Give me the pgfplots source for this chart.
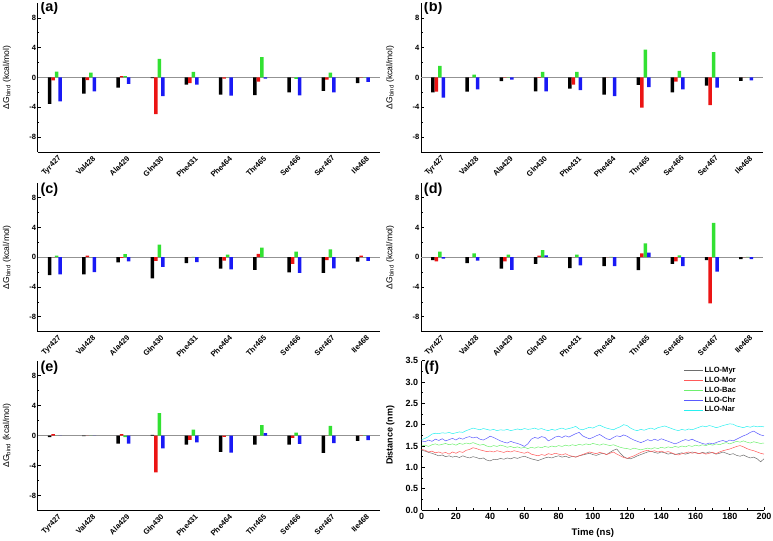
\documentclass[border=0pt]{standalone}
\usepackage{pgfplots}
\pgfplotsset{compat=1.18}
\usepackage{pgfplotstable}
\usepackage{fontspec}
\setmainfont{Liberation Sans}

\definecolor{bk}{RGB}{0,0,0}
\definecolor{rd}{RGB}{235,20,20}
\definecolor{gr}{RGB}{50,225,50}
\definecolor{bl}{RGB}{25,25,245}
\definecolor{cMyr}{RGB}{110,110,110}
\definecolor{cMor}{RGB}{255,90,90}
\definecolor{cBac}{RGB}{110,240,110}
\definecolor{cChr}{RGB}{90,90,255}
\definecolor{cNar}{RGB}{40,240,240}

% columns: x, black, red, green, blue
\pgfplotstableread{
x k r g b
1 -3.55 -0.40 0.80 -3.20
2 -2.15 -0.35 0.67 -1.85
3 -1.35 0.20 0.18 -0.85
4 -0.10 -4.90 2.50 -2.50
5 -0.95 -0.75 0.75 -0.95
6 -2.30 -0.15 0.02 -2.45
7 -2.35 -0.55 2.75 -0.15
8 -2.00 0.02 -0.20 -2.40
9 -1.80 -0.30 0.65 -2.00
10 -0.75 0.05 0.05 -0.60
}\tabA
\pgfplotstableread{
x k r g b
1 -2.00 -1.90 1.55 -2.70
2 -1.90 0.00 0.40 -1.60
3 -0.50 0.05 0.05 -0.30
4 -1.85 -0.05 0.75 -1.85
5 -1.50 -0.95 0.75 -1.70
6 -2.30 0.00 0.02 -2.50
7 -1.00 -4.05 3.75 -1.30
8 -2.00 -0.55 0.90 -1.60
9 -1.10 -3.70 3.40 -1.35
10 -0.45 0.00 0.02 -0.40
}\tabB
\pgfplotstableread{
x k r g b
1 -2.40 0.02 0.20 -2.30
2 -2.30 0.20 0.02 -2.00
3 -0.70 -0.10 0.40 -0.55
4 -2.85 -0.50 1.70 -1.30
5 -0.80 0.02 0.05 -0.65
6 -1.55 -0.45 0.35 -1.65
7 -1.70 0.45 1.30 0.02
8 -2.05 -0.90 0.75 -2.10
9 -2.10 -0.40 1.05 -1.50
10 -0.60 0.20 0.02 -0.50
}\tabC
\pgfplotstableread{
x k r g b
1 -0.40 -0.55 0.75 -0.20
2 -0.80 0.00 0.50 -0.45
3 -1.55 -0.55 0.35 -1.70
4 -0.90 0.20 0.95 0.25
5 -1.45 0.00 0.35 -1.10
6 -1.20 0.00 0.05 -1.20
7 -1.75 0.50 1.85 0.60
8 -0.90 -0.55 0.25 -1.20
9 -0.40 -6.20 4.60 -1.95
10 -0.25 0.00 0.05 -0.25
}\tabD
\pgfplotstableread{
x k r g b
1 -0.20 0.20 0.00 0.00
2 -0.05 0.02 0.02 0.02
3 -1.05 0.20 -0.20 -1.05
4 0.10 -4.90 3.00 -1.70
5 -1.20 -0.55 0.80 -0.90
6 -2.15 -0.15 0.00 -2.25
7 -1.20 0.00 1.40 0.35
8 -1.20 -0.30 0.40 -1.10
9 -2.30 0.00 1.30 -1.00
10 -0.70 0.05 0.05 -0.60
}\tabE

\pgfplotstableread{
t myr mor bac chr nar
0 1.40 1.42 1.50 1.62 1.65
2 1.38 1.40 1.52 1.60 1.68
4 1.35 1.36 1.49 1.64 1.72
6 1.33 1.38 1.53 1.61 1.78
8 1.30 1.34 1.55 1.66 1.80
10 1.27 1.36 1.52 1.63 1.79
12 1.29 1.33 1.54 1.67 1.81
14 1.25 1.35 1.56 1.62 1.80
16 1.27 1.31 1.53 1.65 1.82
18 1.24 1.36 1.55 1.68 1.79
20 1.26 1.33 1.52 1.64 1.81
22 1.23 1.37 1.56 1.69 1.83
24 1.27 1.35 1.54 1.66 1.82
26 1.24 1.40 1.57 1.70 1.86
28 1.22 1.42 1.55 1.72 1.89
30 1.25 1.46 1.58 1.69 1.92
32 1.23 1.44 1.55 1.71 1.90
34 1.20 1.41 1.52 1.66 1.88
36 1.22 1.39 1.54 1.64 1.91
38 1.17 1.37 1.50 1.68 1.89
40 1.15 1.38 1.48 1.73 1.87
42 1.19 1.36 1.51 1.70 1.89
44 1.18 1.39 1.49 1.66 1.86
46 1.21 1.37 1.52 1.62 1.88
48 1.19 1.35 1.50 1.59 1.87
50 1.22 1.38 1.47 1.57 1.89
52 1.20 1.36 1.49 1.61 1.86
54 1.23 1.39 1.46 1.58 1.88
56 1.21 1.37 1.48 1.56 1.90
58 1.24 1.35 1.45 1.53 1.88
60 1.26 1.33 1.47 1.49 1.91
62 1.23 1.36 1.44 1.55 1.89
64 1.20 1.31 1.47 1.66 1.90
66 1.18 1.29 1.45 1.70 1.92
68 1.16 1.27 1.48 1.68 1.89
70 1.19 1.30 1.46 1.72 1.91
72 1.22 1.28 1.49 1.70 1.88
74 1.24 1.32 1.47 1.62 1.86
76 1.22 1.30 1.50 1.66 1.89
78 1.25 1.33 1.48 1.71 1.87
80 1.27 1.31 1.51 1.73 1.90
82 1.24 1.29 1.49 1.70 1.92
84 1.26 1.32 1.52 1.74 1.89
86 1.23 1.28 1.50 1.71 1.91
88 1.26 1.26 1.53 1.75 1.93
90 1.24 1.24 1.51 1.79 1.96
92 1.27 1.27 1.54 1.82 1.90
94 1.29 1.30 1.52 1.74 1.88
96 1.31 1.33 1.55 1.70 1.91
98 1.33 1.36 1.53 1.67 1.94
100 1.30 1.34 1.56 1.70 1.92
102 1.28 1.32 1.54 1.74 1.96
104 1.31 1.35 1.52 1.77 1.99
106 1.33 1.33 1.55 1.72 1.95
108 1.30 1.30 1.53 1.67 1.92
110 1.35 1.33 1.51 1.65 1.90
112 1.40 1.36 1.53 1.70 1.88
114 1.43 1.31 1.50 1.74 1.92
116 1.33 1.27 1.47 1.72 1.95
118 1.25 1.23 1.45 1.76 2.00
120 1.21 1.21 1.44 1.73 1.98
122 1.20 1.24 1.42 1.68 1.92
124 1.23 1.27 1.45 1.64 1.88
126 1.27 1.31 1.43 1.61 1.86
128 1.30 1.35 1.41 1.58 1.89
130 1.33 1.38 1.43 1.61 1.87
132 1.36 1.40 1.45 1.65 1.90
134 1.38 1.37 1.43 1.62 1.92
136 1.35 1.39 1.46 1.66 1.89
138 1.33 1.36 1.44 1.63 1.93
140 1.36 1.38 1.47 1.67 1.95
142 1.34 1.35 1.45 1.64 1.97
144 1.31 1.37 1.48 1.61 1.94
146 1.33 1.34 1.46 1.58 1.91
148 1.30 1.31 1.49 1.55 1.88
150 1.32 1.29 1.47 1.58 1.86
152 1.34 1.32 1.50 1.62 1.89
154 1.31 1.34 1.48 1.65 1.87
156 1.33 1.36 1.51 1.63 1.90
158 1.36 1.33 1.49 1.66 1.88
160 1.34 1.35 1.52 1.62 1.91
162 1.32 1.32 1.50 1.59 1.94
164 1.35 1.34 1.53 1.56 1.97
166 1.33 1.31 1.51 1.54 1.95
168 1.36 1.33 1.54 1.57 1.98
170 1.34 1.35 1.52 1.55 1.96
172 1.31 1.32 1.55 1.58 1.93
174 1.33 1.36 1.53 1.61 1.95
176 1.36 1.39 1.56 1.63 1.98
178 1.33 1.41 1.58 1.60 2.00
180 1.30 1.43 1.55 1.64 2.02
182 1.32 1.46 1.58 1.62 2.01
184 1.28 1.49 1.61 1.66 1.97
186 1.26 1.51 1.59 1.70 1.95
188 1.29 1.48 1.62 1.74 1.93
190 1.25 1.44 1.59 1.77 1.96
192 1.22 1.41 1.57 1.82 1.94
194 1.24 1.39 1.60 1.85 1.97
196 1.20 1.36 1.58 1.80 1.95
198 1.13 1.33 1.56 1.76 1.96
200 1.20 1.31 1.57 1.74 1.95
}\tabF

\tikzset{plabel/.style={anchor=north west, inner sep=0pt, font=\bfseries\fontsize{14.5}{16}\selectfont}}

\pgfplotsset{
  common/.style={
    scale only axis,
    axis x line*=bottom, axis y line*=left,
    axis line style={line width=0.9bp, -},
    tick align=inside,
    major tick length=3bp, minor tick length=1.6bp,
    tick style={black, line width=0.7bp},
    /pgf/number format/assume math mode=true,
  },
  barpanel/.style={
    common,
    width=342.3bp, height=149bp,
    ybar=0pt, bar width=3.5bp,
    xmin=0.5, xmax=10.5, ymin=-10, ymax=10,
    ytick={-8,-4,0,4,8}, minor y tick num=1,
    xtick={1,...,10},
    xticklabels={Tyr427,Val428,Ala429,Gln430,Phe431,Phe464,Thr465,Ser466,Ser467,Ile468},
    x tick style={draw=none},
    x tick label style={rotate=45, anchor=north east, inner sep=1bp,
      font=\bfseries\fontsize{7.6}{9}\selectfont, xshift=3bp, yshift=-1bp},
    y tick label style={font=\bfseries\fontsize{7.6}{9}\selectfont, inner sep=1.5bp},
    ylabel={ΔG\textsubscript{bind} (kcal/mol)},
    y label style={at={(axis description cs:-0.09,0.5)}, anchor=center,
      font=\fontsize{8.6}{10}\selectfont},
    extra y ticks={0}, extra y tick labels={},
    extra y tick style={grid=major, major grid style={gray!85, line width=1.3bp}, tick style={draw=none}},
  },
}

\begin{document}
\begin{tikzpicture}
\useasboundingbox (0,0) rectangle (773bp,541bp);

% (a)
\begin{axis}[barpanel, at={(37.7bp,389bp)}, anchor=south west]
\addplot[fill=bk, draw=none] table[x=x,y=k] {\tabA};
\addplot[fill=rd, draw=none] table[x=x,y=r] {\tabA};
\addplot[fill=gr, draw=none] table[x=x,y=g] {\tabA};
\addplot[fill=bl, draw=none] table[x=x,y=b] {\tabA};
\node[plabel] at (rel axis cs:0.008,1.012) {(a)};
\end{axis}

% (b)
\begin{axis}[barpanel, at={(421bp,389bp)}, anchor=south west]
\addplot[fill=bk, draw=none] table[x=x,y=k] {\tabB};
\addplot[fill=rd, draw=none] table[x=x,y=r] {\tabB};
\addplot[fill=gr, draw=none] table[x=x,y=g] {\tabB};
\addplot[fill=bl, draw=none] table[x=x,y=b] {\tabB};
\node[plabel] at (rel axis cs:0.008,1.012) {(b)};
\end{axis}

% (c)
\begin{axis}[barpanel, at={(37.7bp,209.3bp)}, anchor=south west]
\addplot[fill=bk, draw=none] table[x=x,y=k] {\tabC};
\addplot[fill=rd, draw=none] table[x=x,y=r] {\tabC};
\addplot[fill=gr, draw=none] table[x=x,y=g] {\tabC};
\addplot[fill=bl, draw=none] table[x=x,y=b] {\tabC};
\node[plabel] at (rel axis cs:0.008,1.0) {(c)};
\end{axis}

% (d)
\begin{axis}[barpanel, at={(421bp,209.3bp)}, anchor=south west]
\addplot[fill=bk, draw=none] table[x=x,y=k] {\tabD};
\addplot[fill=rd, draw=none] table[x=x,y=r] {\tabD};
\addplot[fill=gr, draw=none] table[x=x,y=g] {\tabD};
\addplot[fill=bl, draw=none] table[x=x,y=b] {\tabD};
\node[plabel] at (rel axis cs:0.008,1.0) {(d)};
\end{axis}

% (e)
\begin{axis}[barpanel, at={(37.7bp,30.3bp)}, anchor=south west, height=150bp]
\addplot[fill=bk, draw=none] table[x=x,y=k] {\tabE};
\addplot[fill=rd, draw=none] table[x=x,y=r] {\tabE};
\addplot[fill=gr, draw=none] table[x=x,y=g] {\tabE};
\addplot[fill=bl, draw=none] table[x=x,y=b] {\tabE};
\node[plabel] at (rel axis cs:0.008,1.0) {(e)};
\end{axis}

% (f)
\begin{axis}[common, at={(421.7bp,31bp)}, anchor=south west,
  width=342.3bp, height=149.3bp,
  xmin=0, xmax=200, ymin=0, ymax=3.5,
  xtick={0,20,...,200}, minor x tick num=1,
  ytick={0,0.5,...,3.5}, minor y tick num=1,
  yticklabel style={/pgf/number format/fixed, /pgf/number format/fixed zerofill, /pgf/number format/precision=1},
  tick label style={font=\bfseries\fontsize{9}{10}\selectfont},
  xlabel={Time (ns)}, ylabel={Distance (nm)},
  x label style={at={(axis description cs:0.5,-0.155)}, anchor=center, font=\bfseries\fontsize{9.6}{11}\selectfont},
  y label style={at={(axis description cs:-0.092,0.5)}, anchor=center, font=\bfseries\fontsize{9}{11}\selectfont},
  legend style={at={(axis description cs:0.765,0.965)}, anchor=north west, draw=none, fill=none,
    font=\bfseries\fontsize{7.6}{9}\selectfont, row sep=0.6bp, inner sep=0pt,
    nodes={inner sep=1.2bp}},
  legend cell align=left,
  legend image code/.code={\draw[#1, line width=0.6bp] (0bp,0bp) -- (19bp,0bp);},
]
\addplot[cMyr, line width=0.5bp] table[x=t,y=myr] {\tabF};
\addplot[cMor, line width=0.5bp] table[x=t,y=mor] {\tabF};
\addplot[cBac, line width=0.5bp] table[x=t,y=bac] {\tabF};
\addplot[cChr, line width=0.5bp] table[x=t,y=chr] {\tabF};
\addplot[cNar, line width=0.5bp] table[x=t,y=nar] {\tabF};
\legend{LLO-Myr,LLO-Mor,LLO-Bac,LLO-Chr,LLO-Nar}
\node[plabel] at (rel axis cs:0.008,1.0) {(f)};
\end{axis}
\end{tikzpicture}
\end{document}
